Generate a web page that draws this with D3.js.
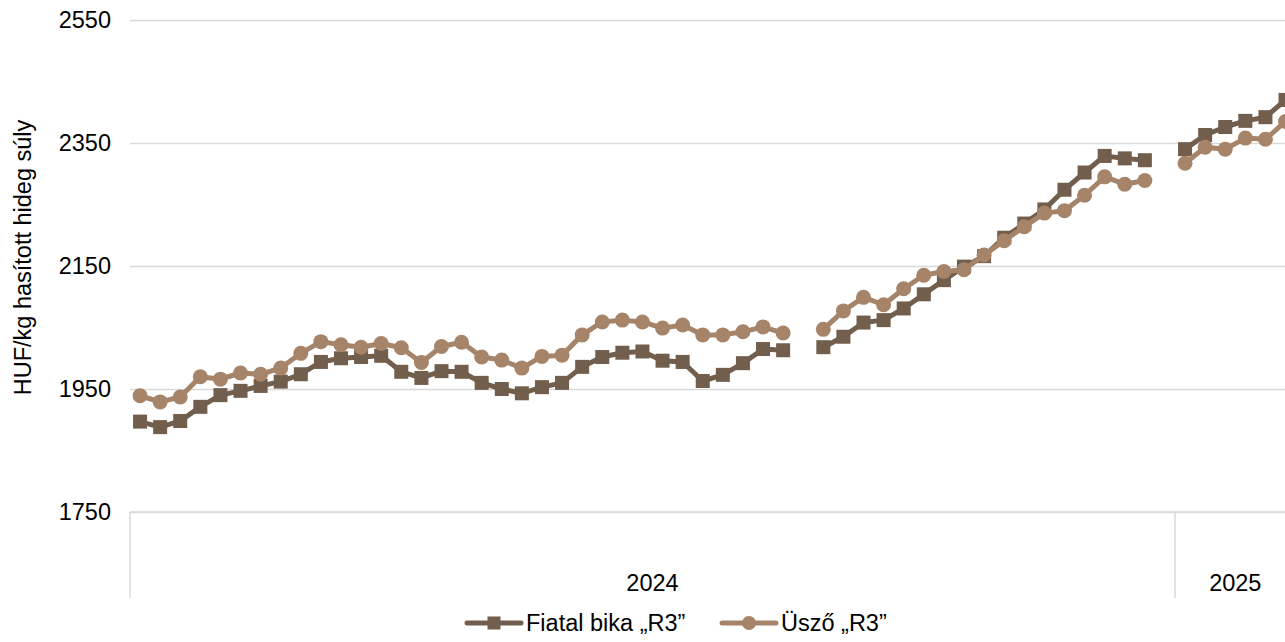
<!DOCTYPE html>
<html>
<head>
<meta charset="utf-8">
<script src="https://cdn.jsdelivr.net/npm/d3@7"></script>
<style>
  html, body { margin: 0; padding: 0; background: #ffffff; overflow: hidden; }
  svg { display: block; }
  text { font-family: "Liberation Sans", Arial, sans-serif; fill: #000; }
</style>
</head>
<body>
<svg id="chart" width="1285" height="642"></svg>
<script>
// ---------- DATA ----------
const categories = [
  "2024-01","2024-02","2024-03","2024-04","2024-05","2024-06","2024-07","2024-08","2024-09","2024-10",
  "2024-11","2024-12","2024-13","2024-14","2024-15","2024-16","2024-17","2024-18","2024-19","2024-20",
  "2024-21","2024-22","2024-23","2024-24","2024-25","2024-26","2024-27","2024-28","2024-29","2024-30",
  "2024-31","2024-32","2024-33","2024-34","2024-35","2024-36","2024-37","2024-38","2024-39","2024-40",
  "2024-41","2024-42","2024-43","2024-44","2024-45","2024-46","2024-47","2024-48","2024-49","2024-50",
  "2024-51","2024-52",
  "2025-01","2025-02","2025-03","2025-04","2025-05","2025-06"
];

const fiatalBika = [
  1897, 1888, 1898, 1921, 1940, 1947, 1955, 1962, 1974, 1994,
  2000, 2002, 2004, 1978, 1968, 1979, 1978, 1960, 1950, 1943,
  1953, 1960, 1986, 2002, 2009, 2011, 1996, 1994, 1963, 1973,
  1992, 2015, 2013, null, 2018, 2035, 2058, 2062, 2081, 2104,
  2127, 2149, 2166, 2196, 2219, 2242, 2274, 2302, 2329, 2325,
  2322, null,
  2340, 2363, 2376, 2386, 2392, 2420
];

const uszo = [
  1939, 1929, 1937, 1970, 1966, 1976, 1974, 1984, 2008, 2027,
  2022, 2018, 2024, 2017, 1993, 2019, 2026, 2002, 1997, 1984,
  2003, 2005, 2038, 2059, 2062, 2059, 2049, 2054, 2038, 2038,
  2043, 2051, 2041, null, 2047, 2077, 2099, 2087, 2113, 2135,
  2141, 2144, 2168, 2191, 2214, 2236, 2240, 2265, 2295, 2283,
  2289, null,
  2317, 2343, 2340, 2358, 2356, 2385
];

const yTicks = [1750, 1950, 2150, 2350, 2550];
const seriesNames = ["Fiatal bika \u201eR3\u201d", "Üsző \u201eR3\u201d"];
const yTitle = "HUF/kg hasított hideg súly";

// ---------- LAYOUT ----------
const svg = d3.select("#chart");
const W = 1285, H = 642;
const plotLeft = 130, plotTop = 20, plotBottom = 512;
const step = (1175 - 130) / 52;
const plotRight = plotLeft + step * categories.length;

const colors = ["#725E4C", "#A68469"];
const gridColor = "#D9D9D9";

const x = d3.scaleBand().domain(categories).range([plotLeft, plotRight]).padding(0);
const y = d3.scaleLinear().domain([1750, 2550]).range([plotBottom, plotTop]);
const cx = c => x(c) + x.bandwidth() / 2;

// ---------- GRID + Y AXIS ----------
const yAxis = d3.axisLeft(y)
  .tickValues(yTicks)
  .tickFormat(d3.format("d"))
  .tickSize(-(W - plotLeft))
  .tickPadding(19);

const gy = svg.append("g")
  .attr("transform", `translate(${plotLeft},0)`)
  .call(yAxis);
gy.select(".domain").remove();
gy.selectAll(".tick line").attr("stroke", gridColor).attr("stroke-width", 1.5);
gy.selectAll(".tick text")
  .style("font-size", "23.5px")
  .style("font-family", "'Liberation Sans', Arial, sans-serif")
  .attr("fill", "#000");

// y title
svg.append("text")
  .attr("transform", `translate(23,${(118 + 397) / 2}) rotate(-90)`)
  .attr("text-anchor", "middle")
  .attr("dy", "0.35em")
  .style("font-size", "23.5px")
  .text(yTitle);

// ---------- CATEGORY AXIS (years) ----------
const yearOf = c => c.slice(0, 4);
const groups = [];
categories.forEach(c => {
  const yr = yearOf(c);
  const last = groups[groups.length - 1];
  if (last && last.year === yr) last.cats.push(c);
  else groups.push({ year: yr, cats: [c] });
});

const gx = svg.append("g");
gx.append("line")
  .attr("x1", plotLeft).attr("x2", W)
  .attr("y1", plotBottom).attr("y2", plotBottom)
  .attr("stroke", gridColor).attr("stroke-width", 1.5);

const boundaries = [plotLeft].concat(groups.map(g => x(g.cats[g.cats.length - 1]) + x.bandwidth()));
gx.selectAll("line.sep").data(boundaries).enter().append("line")
  .attr("class", "sep")
  .attr("x1", d => d).attr("x2", d => d)
  .attr("y1", plotBottom).attr("y2", 598)
  .attr("stroke", gridColor).attr("stroke-width", 1.5);

gx.selectAll("text.year").data(groups).enter().append("text")
  .attr("class", "year")
  .attr("x", g => (x(g.cats[0]) + x(g.cats[g.cats.length - 1]) + x.bandwidth()) / 2)
  .attr("y", 583)
  .attr("text-anchor", "middle")
  .attr("dy", "0.35em")
  .style("font-size", "23.5px")
  .text(g => g.year);

// ---------- SERIES ----------
const series = [
  { name: seriesNames[0], values: fiatalBika, color: colors[0], shape: "square" },
  { name: seriesNames[1], values: uszo, color: colors[1], shape: "circle" }
];

const line = d3.line()
  .defined(d => d.v != null)
  .x(d => cx(d.c))
  .y(d => y(d.v));

series.forEach(s => {
  const pts = categories.map((c, i) => ({ c, v: s.values[i] }));
  const g = svg.append("g");
  g.append("path")
    .datum(pts)
    .attr("fill", "none")
    .attr("stroke", s.color)
    .attr("stroke-width", 5)
    .attr("stroke-linejoin", "round")
    .attr("stroke-linecap", "round")
    .attr("d", line);
  const valid = pts.filter(d => d.v != null);
  if (s.shape === "square") {
    const sz = 14;
    g.selectAll("rect").data(valid).enter().append("rect")
      .attr("x", d => cx(d.c) - sz / 2)
      .attr("y", d => y(d.v) - sz / 2)
      .attr("width", sz).attr("height", sz)
      .attr("fill", s.color);
  } else {
    g.selectAll("circle").data(valid).enter().append("circle")
      .attr("cx", d => cx(d.c))
      .attr("cy", d => y(d.v))
      .attr("r", 7.5)
      .attr("fill", s.color);
  }
});

// ---------- LEGEND ----------
const legendY = 623;
const legendItems = [
  { x0: 467, s: series[0] },
  { x0: 722, s: series[1] }
];
legendItems.forEach(it => {
  const g = svg.append("g");
  g.append("line")
    .attr("x1", it.x0).attr("x2", it.x0 + 54)
    .attr("y1", legendY).attr("y2", legendY)
    .attr("stroke", it.s.color).attr("stroke-width", 5)
    .attr("stroke-linecap", "round");
  const mx = it.x0 + 27;
  if (it.s.shape === "square") {
    g.append("rect").attr("x", mx - 6.5).attr("y", legendY - 6.5)
      .attr("width", 13).attr("height", 13).attr("fill", it.s.color);
  } else {
    g.append("circle").attr("cx", mx).attr("cy", legendY).attr("r", 7)
      .attr("fill", it.s.color);
  }
  g.append("text")
    .attr("x", it.x0 + 59)
    .attr("y", legendY)
    .attr("dy", "0.35em")
    .style("font-size", "23.5px")
    .text(it.s.name);
});
</script>
</body>
</html>
